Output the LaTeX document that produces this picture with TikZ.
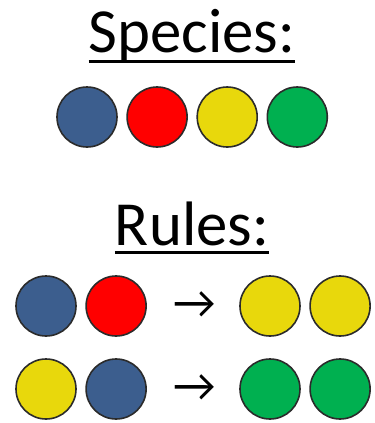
\documentclass[tikz,border=0pt]{standalone}
\usepackage{fontspec}
\setmainfont{Carlito}
\usepackage{xcolor}
\definecolor{cBlue}{HTML}{3C5E8E}
\definecolor{cRed}{HTML}{FF0000}
\definecolor{cYellow}{HTML}{E8D80C}
\definecolor{cGreen}{HTML}{00B050}
\definecolor{cEdge}{HTML}{2B2B2B}
\usetikzlibrary{positioning}
\tikzset{
  title-text/.style={inner sep=0pt,font=\fontsize{63}{63}\selectfont},
  title-line/.style={line width=3bp,draw=black},
  species/.style={circle,draw=cEdge,line width=1.6bp,minimum size=60bp,inner sep=0pt},
  sp-blue/.style={species,fill=cBlue},
  sp-red/.style={species,fill=cRed},
  sp-yellow/.style={species,fill=cYellow},
  sp-green/.style={species,fill=cGreen},
  react-arrow/.style={inner sep=0pt,font=\fontsize{47}{47}\selectfont},
}

\begin{document}
\begin{tikzpicture}[x=1bp,y=-1bp,node distance=8.5bp]
  \useasboundingbox (0,0) rectangle (375,423);
  % species
  \node[title-text,anchor=base] (sp) at (192,52) {Species:};
  \draw[title-line] ([yshift=-9bp]sp.base west) -- ([yshift=-9bp]sp.base east);
  \node[sp-blue]                (s1) at (87,117) {};
  \node[sp-red,right=of s1]     (s2) {};
  \node[sp-yellow,right=of s2]  (s3) {};
  \node[sp-green,right=of s3]   (s4) {};
  % rules
  \node[title-text,anchor=base] (ru) at (192,245) {Rules:};
  \draw[title-line] ([yshift=-7bp]ru.base west) -- ([yshift=-7bp]ru.base east);
  \node[sp-blue]                (a1) at (46,306) {};
  \node[sp-red,right=of a1]     (a2) {};
  \node[react-arrow]            (a3) at (195,305) {→};
  \node[sp-yellow]              (a4) at (270,306) {};
  \node[sp-yellow,right=of a4]  (a5) {};
  \node[sp-yellow]              (b1) at (46,389) {};
  \node[sp-blue,right=of b1]    (b2) {};
  \node[react-arrow]            (b3) at (195,388) {→};
  \node[sp-green]               (b4) at (270,389) {};
  \node[sp-green,right=of b4]   (b5) {};
\end{tikzpicture}
\end{document}
